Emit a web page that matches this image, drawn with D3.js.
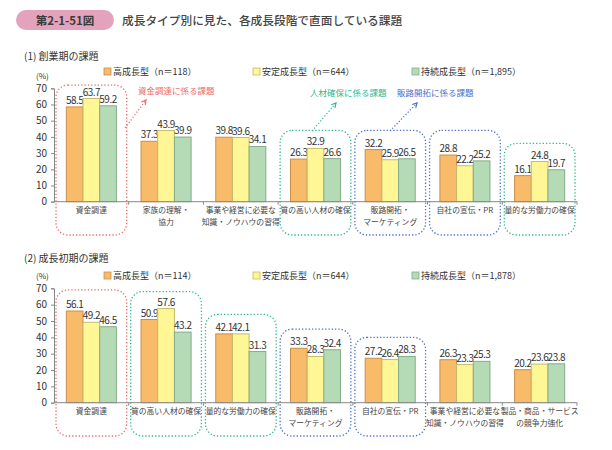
<!DOCTYPE html>
<html><head><meta charset="utf-8">
<script src="https://cdn.jsdelivr.net/npm/d3@7"></script>
<style>
body{margin:0;background:#fff;}
text{font-family:"Noto Sans CJK JP","Noto Sans",sans-serif;fill:#333;}
</style></head>
<body><svg id="c" width="612" height="450"></svg>
<script>
const seriesNames = ["高成長型","安定成長型","持続成長型"];
const n1 = ["118","644","1,895"];
const n2 = ["114","644","1,878"];
const yTicks = [0,10,20,30,40,50,60,70];

const cats1 = [["資金調達"],["家族の理解・","協力"],["事業や経営に必要な","知識・ノウハウの習得"],["質の高い人材の確保"],["販路開拓・","マーケティング"],["自社の宣伝・PR"],["量的な労働力の確保"]];
const high1 = [58.5,37.3,39.8,26.3,32.2,28.8,16.1];
const stable1 = [63.7,43.9,39.6,32.9,25.9,22.2,24.8];
const sustain1 = [59.2,39.9,34.1,26.6,26.5,25.2,19.7];
const boxes1 = [[0,"red",72],[3,"green",44],[4,"blue",44],[5,"blue",44],[6,"green",36]];

const cats2 = [["資金調達"],["質の高い人材の確保"],["量的な労働力の確保"],["販路開拓・","マーケティング"],["自社の宣伝・PR"],["事業や経営に必要な","知識・ノウハウの習得"],["製品・商品・サービス","の競争力強化"]];
const high2 = [56.1,50.9,42.1,33.3,27.2,26.3,20.2];
const stable2 = [49.2,57.6,42.1,28.3,26.4,23.3,23.6];
const sustain2 = [46.5,43.2,31.3,32.4,28.3,25.3,23.8];
const boxes2 = [[0,"red",69],[1,"green",68],[2,"green",54],[3,"blue",45],[4,"blue",40]];

const fills = ["#F8BB6A","#FFF695","#B4DBB6"];
const strokes = ["#C98F4C","#C4BB6C","#86AC8A"];
const boxCol = {red:"#EE6A6A",green:"#2DB88F",blue:"#4A6FD0"};

const svg = d3.select("#c");

svg.append("rect").attr("x",16).attr("y",10).attr("width",98).attr("height",20).attr("rx",10).attr("fill","#E3A3BC");
svg.append("text").attr("x",65).attr("y",24.5).attr("text-anchor","middle").attr("font-size",11.5).attr("font-weight","bold").style("fill","#3a3a3a").text("第2-1-51図");
svg.append("text").attr("x",122).attr("y",24.5).attr("font-size",11.7).attr("font-weight","500").style("fill","#444").text("成長タイプ別に見た、各成長段階で直面している課題");

function drawChart(cfg){
  const {top0, y70, cats, data, ns, boxes, subtitle, subY, legY, boxBottom} = cfg;
  const g = svg.append("g");
  const x = d3.scaleBand().domain(d3.range(cats.length)).range([54,577]).paddingInner(0.33).paddingOuter(0.165);
  const y = d3.scaleLinear().domain([0,70]).range([top0,y70]);
  const xs = d3.scaleBand().domain([0,1,2]).range([0,x.bandwidth()]);

  g.append("text").attr("x",24).attr("y",subY).attr("font-size",10).text(subtitle);
  g.append("text").attr("x",36).attr("y",y70-9).attr("font-size",8).text("(%)");

  const legX = [104,253,412];
  seriesNames.forEach((s,i)=>{
    g.append("rect").attr("x",legX[i]).attr("y",legY-7).attr("width",7).attr("height",7).attr("fill",fills[i]).attr("stroke",strokes[i]).attr("stroke-width",0.8);
    g.append("text").attr("x",legX[i]+9).attr("y",legY).attr("font-size",9).text(s+"（n＝"+ns[i]+"）");
  });

  const ya = g.append("g").attr("transform","translate(54,0)").call(d3.axisLeft(y).tickValues(yTicks).tickSize(3).tickPadding(4));
  ya.select(".domain").attr("stroke","#888");
  ya.selectAll("line").attr("stroke","#888");
  ya.selectAll("text").attr("font-size",10).style("fill","#333").attr("font-family","Liberation Sans Narrow, Liberation Sans, sans-serif");

  boxes.forEach(([ci,col,tv])=>{
    const x0 = x(ci) - x.step()*x.paddingInner()/2 + 2;
    const w = x.step() - 4;
    const yt = y(tv);
    g.append("rect").attr("x",x0).attr("y",yt).attr("width",w).attr("height",boxBottom-yt).attr("rx",12)
      .attr("fill","none").attr("stroke",boxCol[col]).attr("stroke-width",1.3).attr("stroke-dasharray","1.3,2");
  });

  data.forEach((arr,si)=>{
    g.selectAll(null).data(arr).enter().append("rect")
      .attr("x",(d,i)=>x(i)+xs(si)).attr("y",d=>y(d)).attr("width",xs.bandwidth()).attr("height",d=>top0-y(d))
      .attr("fill",fills[si]).attr("stroke",strokes[si]).attr("stroke-width",1);
    g.selectAll(null).data(arr).enter().append("text")
      .attr("x",(d,i)=>x(i)+xs(si)+xs.bandwidth()/2).attr("y",d=>y(d)-3)
      .attr("text-anchor","middle").attr("font-size",10).attr("letter-spacing",-0.5)
      .attr("font-family","Liberation Sans Narrow, Liberation Sans, sans-serif").style("fill","#333")
      .text(d=>d.toFixed(1));
  });

  g.append("line").attr("x1",54).attr("x2",577).attr("y1",top0).attr("y2",top0).attr("stroke","#888");
  d3.range(1,cats.length+1).forEach(i=>{
    const xx = 54 + x.step()*i;
    g.append("line").attr("x1",xx).attr("x2",xx).attr("y1",top0).attr("y2",top0+3).attr("stroke","#888");
  });

  cats.forEach((lines,i)=>{
    lines.forEach((l,j)=>{
      g.append("text").attr("x",x(i)+x.bandwidth()/2).attr("y",top0+11.5+j*12).attr("text-anchor","middle")
        .attr("font-size",7.8).style("fill","#444").text(l);
    });
  });
  return {x,y};
}

drawChart({top0:201.7,y70:88.3,cats:cats1,data:[high1,stable1,sustain1],ns:n1,boxes:boxes1,subtitle:"(1) 創業期の課題",subY:60,legY:75,boxBottom:235});
drawChart({top0:402.7,y70:288.3,cats:cats2,data:[high2,stable2,sustain2],ns:n2,boxes:boxes2,subtitle:"(2) 成長初期の課題",subY:262,legY:279,boxBottom:436});

const ann = [
  {t:"資金調達に係る課題",col:"red",tx:138,ty:94,ax1:125,ay1:128,ax2:146,ay2:100},
  {t:"人材確保に係る課題",col:"green",tx:310,ty:96,ax1:312,ay1:131,ax2:336,ay2:103},
  {t:"販路開拓に係る課題",col:"blue",tx:397,ty:96,ax1:390,ay1:131,ax2:417,ay2:103}
];
ann.forEach(a=>{
  svg.append("text").attr("x",a.tx).attr("y",a.ty).attr("font-size",8.5).style("fill",boxCol[a.col]).text(a.t);
  svg.append("line").attr("x1",a.ax1).attr("y1",a.ay1).attr("x2",a.ax2).attr("y2",a.ay2)
    .attr("stroke",boxCol[a.col]).attr("stroke-width",1.2).attr("stroke-dasharray","1.2,2");
  const ang = Math.atan2(a.ay2-a.ay1,a.ax2-a.ax1);
  const L=5;
  const p1=[a.ax2-L*Math.cos(ang-0.5),a.ay2-L*Math.sin(ang-0.5)];
  const p2=[a.ax2-L*Math.cos(ang+0.5),a.ay2-L*Math.sin(ang+0.5)];
  svg.append("path").attr("d",`M${p1}L${a.ax2},${a.ay2}L${p2}`).attr("fill","none").attr("stroke",boxCol[a.col]).attr("stroke-width",1.2);
});
</script></body></html>
